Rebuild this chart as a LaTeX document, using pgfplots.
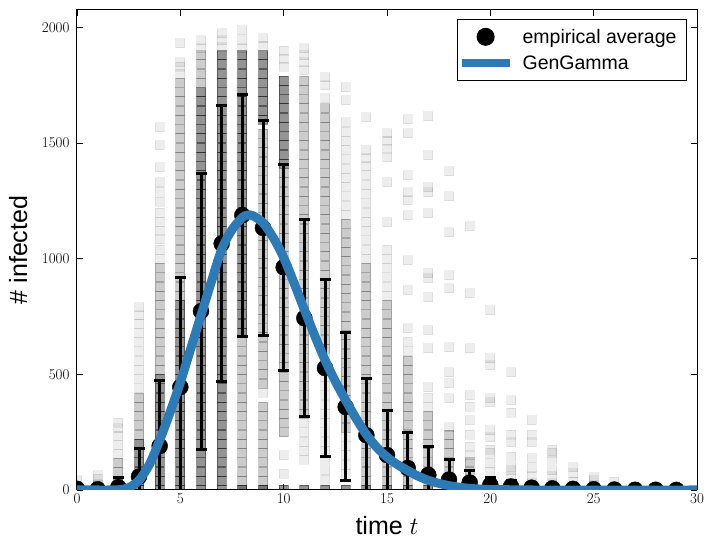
\documentclass[border=0pt]{standalone}
\usepackage{fontspec}
\setmainfont{Liberation Sans}
\usepackage{pgfplots}
\pgfplotsset{compat=1.18}
\definecolor{gg}{RGB}{44,123,182}
\begin{document}
\begin{tikzpicture}
\begin{axis}[
 scale only axis, width=620pt, height=480pt,
 xmin=0, xmax=30, ymin=0, ymax=2075,
 xtick={0,5,...,30}, ytick={0,500,...,2000},
 tick align=inside, tick pos=both, xticklabel pos=lower, yticklabel pos=left,
 major tick length=6pt, major tick style={black, line width=0.8pt},
 axis line style={black, line width=1pt},
 tick label style={font=\fontfamily{lmr}\fontsize{15}{18}\selectfont},
 /pgf/number format/assume math mode=true,
 /pgf/number format/1000 sep={},
 scaled y ticks=false,
 yticklabel style={xshift=-4pt},
 xlabel={time $t$}, ylabel={\# infected},
 label style={font=\fontsize{25}{30}\selectfont},
 xlabel style={at={(axis description cs:0.5,0)}, anchor=base, yshift=-45pt},
 ylabel style={at={(axis description cs:-0.0806,0.5)}, anchor=base},
 clip mode=individual, clip marker paths=true,
 legend cell align=left,
 legend style={at={(0.9839,0.98125)}, anchor=north east, draw=black, line width=1pt,
   font=\fontsize{19.5}{23}\selectfont, inner xsep=0pt, inner ysep=7.5pt, row sep=7pt,
   nodes={inner xsep=0pt}, column sep=9pt},
]
% faint individual realisations
\addplot[only marks, mark=square*, mark size=4.5pt, mark options={draw=black, fill=black, opacity=0.07, line width=0.8pt}, forget plot] coordinates {
(0,15)(0,42)
(1,48)(1,64)
(2,158)(2,196)(2,236)(2,268)(2,292)
(3,440)(3,480)(3,520)(3,560)(3,600)(3,640)(3,680)(3,720)(3,755)(3,790)
(4,1000)(4,1040)(4,1085)(4,1120)(4,1160)(4,1200)(4,1245)(4,1290)(4,1330)(4,1395)(4,1490)(4,1568)
(5,1800)(5,1830)(5,1850)(5,1931)
(6,1910)(6,1944)
(7,1915)(7,1945)(7,1974)
(8,1910)(8,1945)(8,1987)
(9,420)(9,1920)(9,1953)
(10,70)(10,150)(10,1830)(10,1865)(10,1900)
(11,130)(11,170)(11,210)(11,250)(11,290)(11,1815)(11,1850)(11,1880)(11,1910)
(12,45)(12,85)(12,130)(12,170)(12,210)(12,250)(12,290)(12,330)(12,370)(12,410)(12,450)(12,490)(12,530)(12,570)(12,1693)(12,1750)(12,1784)
(13,70)(13,110)(13,150)(13,190)(13,230)(13,1190)(13,1230)(13,1270)(13,1310)(13,1350)(13,1390)(13,1430)(13,1470)(13,1510)(13,1550)(13,1590)(13,1685)(13,1741)
(14,1000)(14,1040)(14,1080)(14,1120)(14,1160)(14,1200)(14,1240)(14,1280)(14,1320)(14,1360)(14,1400)(14,1435)(14,1469)(14,1611)
(15,840)(15,880)(15,920)(15,960)(15,1000)(15,1040)(15,1158)(15,1330)(15,1438)(15,1475)(15,1510)(15,1542)
(16,600)(16,640)(16,700)(16,864)(16,994)(16,1188)(16,1253)(16,1287)(16,1361)(16,1542)(16,1603)
(17,360)(17,400)(17,445)(17,613)(17,691)(17,834)(17,915)(17,937)(17,1197)(17,1287)(17,1309)(17,1447)(17,1616)
(18,272)(18,397)(18,462)(18,510)(18,618)(18,873)(18,929)(18,1114)(18,1270)(18,1378)
(19,150)(19,186)(19,238)(19,302)(19,359)(19,410)(19,613)(19,851)(19,1140)
(20,80)(20,117)(20,160)(20,173)(20,229)(20,259)(20,380)(20,397)(20,540)(20,570)(20,778)
(21,30)(21,56)(21,86)(21,99)(21,143)(21,207)(21,238)(21,333)(21,389)(21,510)
(22,30)(22,60)(22,95)(22,138)(22,207)(22,238)(22,302)
(23,30)(23,60)(23,86)(23,130)(23,160)(23,173)
(24,35)(24,73)(24,99)
(25,0)(25,20)(25,43)(25,56)
(26,0)(26,35)
(27,0)(27,15)
(28,0)(29,0)
};
\addplot[only marks, mark=square*, mark size=4.5pt, mark options={draw=black, fill=black, opacity=0.2, line width=0.8pt}, forget plot] coordinates {
(1,20)(2,78)(2,118)
(3,240)(3,280)(3,320)(3,360)(3,400)
(4,520)(4,560)(4,600)(4,640)(4,680)(4,720)(4,760)(4,800)(4,840)(4,880)(4,920)(4,960)
(5,840)(5,880)(5,920)(5,960)(5,1000)(5,1040)(5,1080)(5,1120)(5,1160)(5,1200)(5,1240)(5,1280)(5,1320)(5,1360)(5,1400)(5,1440)(5,1480)(5,1520)(5,1560)(5,1600)(5,1640)(5,1680)(5,1720)(5,1760)
(6,1760)(6,1800)(6,1840)(6,1880)
(8,0)(8,40)(8,80)(8,120)(8,160)(8,200)(8,240)(8,280)(8,320)(8,360)(8,400)(8,440)(8,480)(8,520)(8,560)(8,600)(8,640)
(9,0)(9,40)(9,80)(9,120)(9,160)(9,200)(9,240)(9,280)(9,320)(9,360)
(9,460)(9,500)(9,540)(9,580)(9,620)(9,660)(9,700)(9,740)(9,780)(9,820)(9,860)(9,900)(9,940)(9,980)(9,1020)(9,1060)(9,1100)(9,1140)(9,1180)(9,1220)(9,1260)(9,1300)(9,1340)(9,1380)(9,1420)(9,1460)(9,1500)(9,1540)
(10,250)(10,290)(10,330)(10,370)(10,410)(10,450)(10,490)(10,530)(10,570)(10,610)(10,650)(10,690)(10,730)(10,770)(10,810)(10,850)(10,890)(10,930)(10,970)(10,1010)(10,1050)(10,1090)(10,1130)(10,1170)(10,1210)(10,1250)(10,1290)(10,1330)(10,1370)
(11,330)(11,370)(11,410)(11,450)(11,490)(11,530)(11,570)(11,610)(11,650)(11,690)(11,730)(11,770)(11,810)(11,850)(11,890)(11,930)(11,970)(11,1010)(11,1050)(11,1090)(11,1130)(11,1170)(11,1210)(11,1250)(11,1290)(11,1330)(11,1370)(11,1410)(11,1450)(11,1490)(11,1530)(11,1570)(11,1610)(11,1650)(11,1690)(11,1730)(11,1770)
(12,610)(12,650)(12,690)(12,730)(12,770)(12,810)(12,850)(12,890)(12,930)(12,970)(12,1010)(12,1050)(12,1090)(12,1130)(12,1170)(12,1210)(12,1250)(12,1290)(12,1330)(12,1370)(12,1410)(12,1450)(12,1490)(12,1530)(12,1570)(12,1610)(12,1650)
(13,270)(13,310)(13,350)(13,390)(13,430)(13,470)(13,510)(13,550)(13,590)(13,630)(13,670)(13,710)(13,750)(13,790)(13,830)(13,870)(13,910)(13,950)(13,990)(13,1030)(13,1070)(13,1110)(13,1150)
(14,40)(14,80)(14,120)(14,160)(14,200)(14,240)(14,280)(14,320)(14,360)(14,400)(14,440)(14,480)(14,520)(14,560)(14,600)(14,640)(14,680)(14,720)(14,760)(14,800)(14,840)(14,880)(14,920)(14,960)
(15,40)(15,80)(15,120)(15,160)(15,200)(15,240)(15,280)(15,320)(15,360)(15,400)(15,440)(15,480)(15,520)(15,560)(15,600)(15,640)(15,680)(15,720)(15,760)(15,800)
(16,40)(16,80)(16,120)(16,160)(16,200)(16,240)(16,280)(16,320)(16,360)(16,400)(16,440)(16,480)(16,520)(16,560)
(17,40)(17,80)(17,120)(17,160)(17,200)(17,240)(17,280)(17,320)
(18,40)(18,80)(18,120)(18,160)(18,200)(18,240)
(19,40)(19,80)(19,120)
(20,40)
(22,0)(23,0)(24,0)
};
\addplot[only marks, mark=square*, mark size=4.5pt, mark options={draw=black, fill=black, opacity=0.42, line width=0.8pt}, forget plot] coordinates {
(0,0)(1,0)(2,0)(2,38)
(3,0)(3,40)(3,80)(3,120)(3,160)(3,200)
(4,0)(4,40)(4,80)(4,120)(4,160)(4,200)(4,240)(4,280)(4,320)(4,360)(4,400)(4,440)(4,480)
(5,0)(5,40)(5,80)(5,120)(5,160)(5,200)(5,240)(5,280)(5,320)(5,360)(5,400)(5,440)(5,480)(5,520)(5,560)(5,600)(5,640)(5,680)(5,720)(5,760)(5,800)
(6,0)(6,40)(6,80)(6,120)(6,160)(6,200)(6,240)(6,280)(6,320)(6,360)(6,400)(6,440)(6,480)(6,520)(6,560)(6,600)(6,640)(6,680)(6,720)(6,760)(6,800)(6,840)(6,880)(6,920)(6,960)(6,1000)(6,1040)(6,1080)(6,1120)(6,1160)(6,1200)(6,1240)(6,1280)(6,1320)(6,1360)(6,1400)(6,1440)(6,1480)(6,1520)(6,1560)(6,1600)(6,1640)(6,1680)(6,1720)
(7,0)(7,40)(7,80)(7,120)(7,160)(7,200)(7,240)(7,280)(7,320)(7,360)(7,400)(7,440)(7,480)(7,520)(7,560)(7,600)(7,640)(7,680)(7,720)(7,760)(7,800)(7,840)(7,880)(7,920)(7,960)(7,1000)(7,1040)(7,1080)(7,1120)(7,1160)(7,1200)(7,1240)(7,1280)(7,1320)(7,1360)(7,1400)(7,1440)(7,1480)(7,1520)(7,1560)(7,1600)(7,1640)(7,1680)(7,1720)(7,1760)(7,1800)(7,1840)(7,1880)
(8,0)(8,680)(8,720)(8,760)(8,800)(8,840)(8,880)(8,920)(8,960)(8,1000)(8,1040)(8,1080)(8,1120)(8,1160)(8,1200)(8,1240)(8,1280)(8,1320)(8,1360)(8,1400)(8,1440)(8,1480)(8,1520)(8,1560)(8,1600)(8,1640)(8,1680)(8,1720)(8,1760)(8,1800)(8,1840)(8,1880)
(9,0)(9,1600)(9,1640)(9,1680)(9,1720)(9,1760)(9,1800)(9,1840)(9,1880)
(10,0)(10,1410)(10,1450)(10,1490)(10,1530)(10,1570)(10,1610)(10,1650)(10,1690)(10,1730)(10,1770)
(11,0)(12,0)(13,0)(14,0)(15,0)(16,0)(17,0)(18,0)(19,0)(20,0)(21,0)
};
% empirical average with error bars
\addplot[only marks, mark=*, mark size=8pt, black, mark options={fill=black},
  legend image code/.code={\path[draw=none,fill=none] (-4pt,-8.5pt) rectangle (48pt,8.5pt); \fill[black] (24pt,0pt) circle (8.5pt);},
  error bars/.cd, y dir=both, y explicit,
  error bar style={line width=3pt, black},
  error mark options={rotate=90, mark size=5.5pt, line width=3pt, black}] coordinates {
(0,5) +- (0,10)
(1,3) +- (0,10)
(2,12) +- (0,40)
(3,58) +- (0,120)
(4,190) +- (0,285)
(5,445) +- (0,475)
(6,773) +- (0,596)
(7,1065) +- (0,596)
(8,1188) +- (0,523)
(9,1133) +- (0,466)
(10,963) +- (0,445)
(11,743) +- (0,425)
(12,527) +- (0,382)
(13,359) +- (0,320)
(14,237) +- (0,247)
(15,151) +- (0,193)
(16,95) +- (0,155)
(17,65) +- (0,121)
(18,45) +- (0,85)
(19,32) +- (0,52)
(20,22) +- (0,33)
(21,15) +- (0,25)
(22,10) +- (0,18)
(23,7) +- (0,13)
(24,5) +- (0,9)
(25,3) +- (0,6)
(26,2) +- (0,4)
(27,1) +- (0,3)
(28,1) +- (0,2)
(29,0.5) +- (0,1)
};
\addlegendentry{empirical average\kern10pt}
% fitted curve
\addplot[gg, line width=9pt, smooth,
  legend image code/.code={\path[draw=none,fill=none] (-4pt,-8.5pt) rectangle (48pt,8.5pt); \draw[gg, line width=8pt] (0pt,0pt) -- (48pt,0pt);}] coordinates {
(0,0)(1,0)(1.5,0)(2,1)(2.5,10)(3,42)(3.5,110)(4,215)(4.5,335)(5,465)(5.5,610)(6,755)(6.5,900)(7,1040)(7.5,1125)(8,1178)(8.25,1188)(8.5,1186)(9,1155)(9.5,1090)(10,1005)(10.5,895)(11,780)(11.5,668)(12,562)(12.5,470)(13,388)(13.5,310)(14,240)(14.5,185)(15,142)(15.5,110)(16,84)(16.5,60)(17,42)(17.5,29)(18,19)(18.5,12)(19,7)(19.5,4)(20,2)(21,1)(22,0)(30,0)
};
\addlegendentry{GenGamma}
\end{axis}
\pgfresetboundingbox
\path ([shift={(-77pt,-58pt)}]current axis.south west) rectangle ([shift={(17pt,10pt)}]current axis.north east);
\end{tikzpicture}
\end{document}
